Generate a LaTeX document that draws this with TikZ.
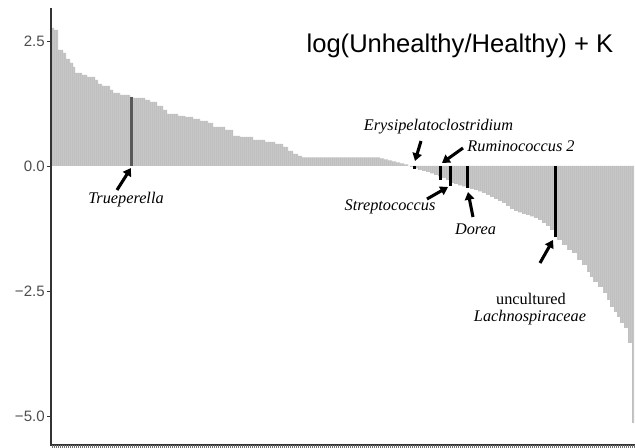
\documentclass[tikz,border=0pt]{standalone}
\usepackage{fontspec}
\setmainfont{Liberation Serif}
\newfontfamily\sansf{Liberation Sans}
\usetikzlibrary{arrows.meta}
\definecolor{barfill}{HTML}{BFBFBF}
\definecolor{axisgray}{HTML}{333333}
\definecolor{labgray}{HTML}{4D4D4D}
\begin{document}
\begin{tikzpicture}[x=0.75pt,y=-0.75pt,
  ann/.style={font=\fontsize{12.2pt}{14pt}\selectfont\itshape, inner sep=0pt, anchor=base},
  tlab/.style={font=\sansf\fontsize{11.3pt}{13pt}\selectfont, text=labgray, anchor=east, inner sep=0pt},
  pointer/.style={line width=2.3pt, -{Triangle[length=5.8pt,width=7pt]}},
  hibar/.style={line width=2.25pt, black}]
\useasboundingbox (0,0) rectangle (635,448);
\def\profilepath{(51,166) -- (51,28) -| (54,30) -| (58,50) -| (63,53) -| (66,59) -| (70,63) -| (73,67) -| (75,73) -| (82,75) -| (87,77) -| (95,80) -| (98,84) -| (102,86) -| (110,90) -| (113,93) -| (120,95) -| (130,97) -| (133,98) -| (145,100) -| (150,102) -| (157,106) -| (163,110) -| (167,114) -| (178,116) -| (185,117) -| (193,119) -| (200,121) -| (208,123) -| (213,127) -| (225,130) -| (233,136) -| (240,137) -| (253,140) -| (265,142) -| (275,144) -| (283,147) -| (288,151) -| (293,154) -| (298,156) -| (302,157.5) -| (380,158.5) -| (384,159.5) -| (388,160.5) -| (392,161.5) -| (396,162.5) -| (400,163.5) -| (404,164.5) -| (408,166)
 -| (410,167) -| (414,168.5) -| (418,170) -| (422,171) -| (426,172) -| (430,173.5) -| (434,175) -| (438,176.5) -| (442,178) -| (446,180) -| (450,183) -| (454,184) -| (458,185.5) -| (462,186.5) -| (466,188) -| (470,189) -| (474,190) -| (478,191.5) -| (482,193) -| (486,195) -| (490,197) -| (494,199) -| (498,201) -| (502,203) -| (506,206) -| (510,209) -| (514,211) -| (518,212.5) -| (522,214) -| (526,215) -| (530,216.5) -| (534,218) -| (538,220) -| (542,223) -| (546,226) -| (550,230) -| (554,236) -| (557,240) -| (562,245) -| (567,250) -| (572,253) -| (577,260) -| (582,265) -| (587,272) -| (590,277) -| (593,282) -| (598,287) -| (603,293) -| (607,300) -| (610,307) -| (614,312) -| (617,317) -| (620,323) -| (624,328) -| (628,343) -| (632,423) -- (634,423) -- (634,166) -- cycle}
% bars
\fill[barfill] \profilepath;
\begin{scope}
  \clip \profilepath;
  \foreach \x in {53,55,...,633} \draw[white, opacity=0.13, line width=0.35pt] (\x,0) -- (\x,448);
\end{scope}
% highlighted bars
\draw[line width=2.25pt, black!65] (131.7,166) -- (131.7,97);
\draw[hibar] (440,166) -- (440,180);
\draw[hibar] (450,166) -- (450,186);
\draw[hibar] (467,166) -- (467,188);
\draw[hibar] (555,166) -- (555,237);
\fill[black] (412.5,166.5) rectangle (415.5,169.5);
% axes
\draw[axisgray, line width=0.8pt] (51,8) -- (51,445) -- (635,445);
\foreach \x in {52,54,...,634} \draw[axisgray!70, line width=0.35pt] (\x,445) -- (\x,448);
\foreach \y in {41,166,291,416} {
  \draw[axisgray, line width=0.6pt] (47,\y) -- (51,\y);
}
\node[tlab] (t1) at (45,41) {2.5};
\node[tlab] (t2) at (45,166) {0.0};
\node[tlab] (t3) at (45,291) {−2.5};
\node[tlab] (t4) at (45,416) {−5.0};
% title
\node[font=\sansf\fontsize{19.2pt}{22pt}\selectfont, anchor=base east, inner sep=0pt] (title) at (613.5,53) {log(Unhealthy/Healthy) + K};
% labels
\node[ann] (true) at (126,204) {Trueperella};
\node[ann] (erys) at (438.5,131) {Erysipelatoclostridium};
\node[ann] (rumi) at (521,152) {Ruminococcus 2};
\node[ann] (strep) at (390,211) {Streptococcus};
\node[ann] (dorea) at (475.5,235) {Dorea};
\node[ann, font=\fontsize{12.2pt}{14pt}\selectfont] (unc) at (531,305) {uncultured};
\node[ann] (lach) at (530,322) {Lachnospiraceae};
% arrows
\coordinate (a1s) at (117,190); \coordinate (a1e) at (131,168);
\coordinate (a2s) at (421,141); \coordinate (a2e) at (415,161);
\coordinate (a3s) at (463,148); \coordinate (a3e) at (442,163);
\coordinate (a4s) at (427,199); \coordinate (a4e) at (448,187);
\coordinate (a5s) at (473,217); \coordinate (a5e) at (468,192);
\coordinate (a6s) at (540,263); \coordinate (a6e) at (553,240);
\draw[pointer] (a1s) -- (a1e);
\draw[pointer] (a2s) -- (a2e);
\draw[pointer] (a3s) -- (a3e);
\draw[pointer] (a4s) -- (a4e);
\draw[pointer] (a5s) -- (a5e);
\draw[pointer] (a6s) -- (a6e);
\end{tikzpicture}
\end{document}
